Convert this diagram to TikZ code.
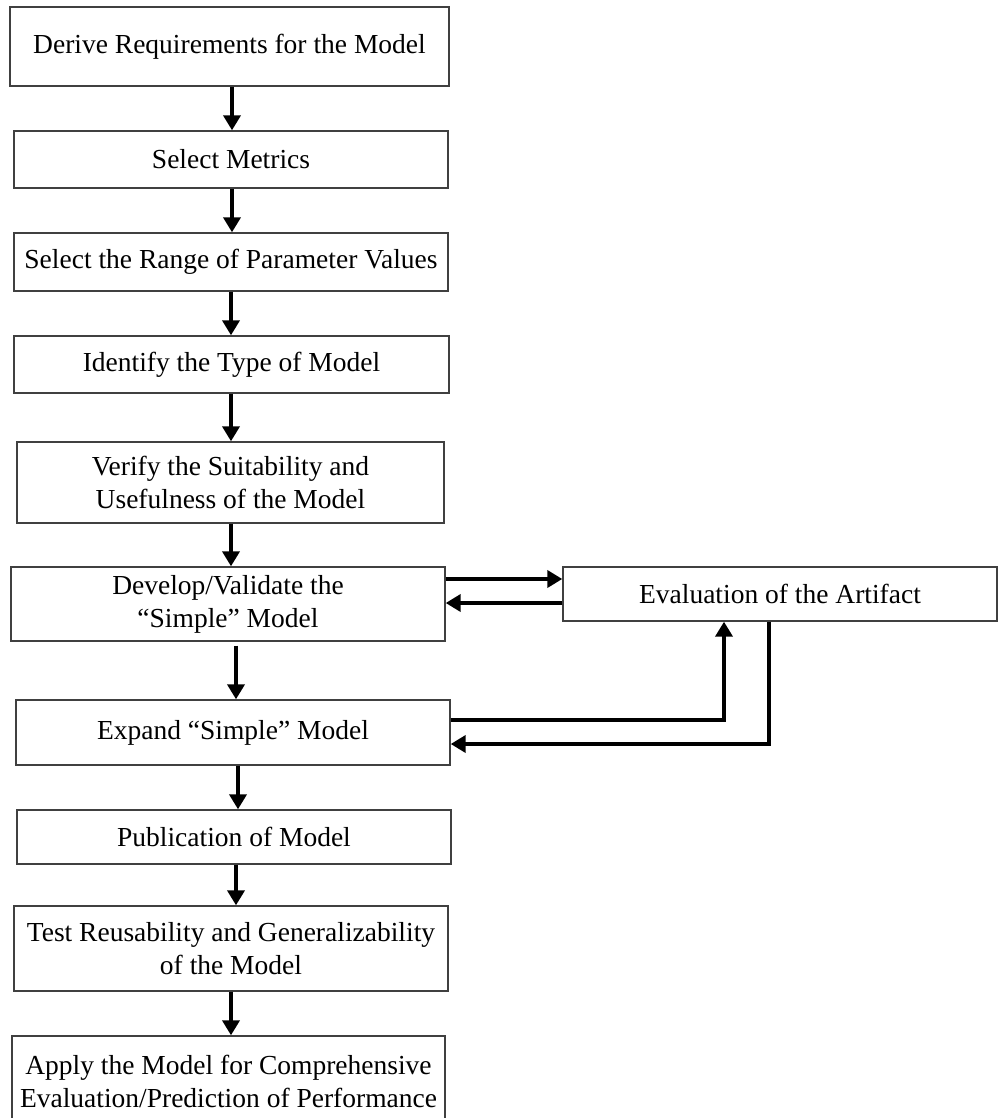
\documentclass[tikz,border=0pt]{standalone}
\usepackage{fontspec}
\setmainfont{Liberation Serif}
\usetikzlibrary{arrows.meta}
\begin{document}
\begin{tikzpicture}[x=1pt,y=-1pt,
  stepbox/.style={draw=black!75, line width=1.4pt, fill=white, inner sep=0pt,
    align=center, font=\fontsize{27.5}{33}\selectfont},
  arr/.style={line width=4.5pt, -{Triangle[length=15pt,width=17pt]}}]
\useasboundingbox (0,0) rectangle (999,1118);
\fill[white] (0,0) rectangle (999,1118);

% main column of steps
\node[stepbox, minimum width=439pt, minimum height=79pt] (b1) at (229.5,46.5) {Derive Requirements for the Model};
\node[stepbox, minimum width=434pt, minimum height=57pt] (b2) at (231,159.5) {Select Metrics};
\node[stepbox, minimum width=434pt, minimum height=58pt] (b3) at (231,262) {Select the Range of Parameter Values};
\node[stepbox, minimum width=435pt, minimum height=57pt] (b4) at (231.5,364.5) {Identify the Type of Model};
\node[stepbox, minimum width=427pt, minimum height=81pt] (b5) at (230.5,482.5) {Verify the Suitability and\\Usefulness of the Model};
\node[stepbox, minimum width=434pt, minimum height=74pt] (b6) at (228,604) {Develop/Validate the\\“Simple” Model};
\node[stepbox, minimum width=434pt, minimum height=54pt] (b7) at (780,594) {Evaluation of the Artifact};
\node[stepbox, minimum width=434pt, minimum height=65pt] (b8) at (233,732.5) {Expand “Simple” Model};
\node[stepbox, minimum width=434pt, minimum height=54pt] (b9) at (234,837) {Publication of Model};
\node[stepbox, minimum width=434pt, minimum height=85pt] (b10) at (231,948.5) {Test Reusability and Generalizability\\of the Model};
\node[stepbox, minimum width=433pt, minimum height=90pt] (b11) at (228.5,1081) {Apply the Model for Comprehensive\\Evaluation/Prediction of Performance};

% guide positions for the connectors
\coordinate (xa) at (232,0);
\coordinate (xb) at (231,0);
\coordinate (xc) at (236,0);
\coordinate (xd) at (238,0);
\coordinate (xe) at (231,0);
\coordinate (xup) at (724,0);
\coordinate (xdn) at (769,0);
\coordinate (yt) at (0,579);
\coordinate (yb) at (0,603);
\coordinate (yu) at (0,720);
\coordinate (yd) at (0,744);

% downward flow
\draw[arr] (b1.south -| xa) -- (b2.north -| xa);
\draw[arr] (b2.south -| xa) -- (b3.north -| xa);
\draw[arr] (b3.south -| xb) -- (b4.north -| xb);
\draw[arr] (b4.south -| xb) -- (b5.north -| xb);
\draw[arr] (b5.south -| xb) -- (b6.north -| xb);
\draw[arr] ([yshift=-4pt]b6.south -| xc) -- (b8.north -| xc);
\draw[arr] (b8.south -| xd) -- (b9.north -| xd);
\draw[arr] (b9.south -| xc) -- (b10.north -| xc);
\draw[arr] (b10.south -| xe) -- (b11.north -| xe);

% exchange with the evaluation step
\draw[arr] (b6.east |- yt) -- (b7.west |- yt);
\draw[arr] (b7.west |- yb) -- (b6.east |- yb);
\draw[arr] (b8.east |- yu) -| (b7.south -| xup);
\draw[arr] (b7.south -| xdn) |- (b8.east |- yd);
\end{tikzpicture}
\end{document}
